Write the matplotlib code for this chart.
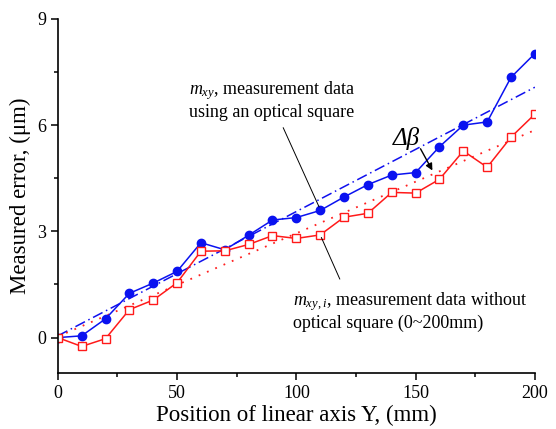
import matplotlib
matplotlib.use("Agg")
import matplotlib.pyplot as plt
from matplotlib.ticker import MultipleLocator

plt.rcParams['font.family'] = ['Liberation Serif', 'DejaVu Serif']
plt.rcParams['mathtext.fontset'] = 'custom'
plt.rcParams['mathtext.it'] = 'Liberation Serif:italic'
plt.rcParams['mathtext.rm'] = 'Liberation Serif'

# position along the Y axis (mm)
position = [0, 10, 20, 30, 40, 50, 60, 70, 80, 90, 100,
            110, 120, 130, 140, 150, 160, 170, 180, 190, 200]

# m_xy: measured with the optical square (um)
with_square = [0.0, 0.05, 0.53, 1.25, 1.54, 1.87, 2.68, 2.48, 2.89, 3.32, 3.39,
               3.59, 3.97, 4.32, 4.59, 4.66, 5.39, 6.00, 6.09, 7.35, 8.02]

# m_xy,i: measured without the optical square (um)
without_square = [0.0, -0.25, -0.03, 0.79, 1.06, 1.55, 2.44, 2.45, 2.63, 2.88, 2.80,
                  2.90, 3.40, 3.51, 4.10, 4.08, 4.47, 5.27, 4.81, 5.66, 6.31]

# straight-line trends, end points
trend_x = [0, 200]
trend_with = [0.05, 7.07]
trend_without = [0.03, 5.86]

fig = plt.figure(figsize=(5.56, 4.29), dpi=100)
ax = fig.add_axes([0.104, 0.1305, 0.858, 0.8255])

ax.plot(trend_x, trend_with, color='#1010ee', lw=1.1, ls=(0, (7, 2.5, 1, 2.5)))
ax.plot(trend_x, trend_without, color='#ff2020', lw=1.3, ls=(0, (1, 4)))

ax.plot(position, with_square, color='#0a12f0', lw=1.1, marker='o',
        markersize=6, markerfacecolor='#0a12f0', markeredgecolor='#0a12f0')
ax.plot(position, without_square, color='#ff1a1a', lw=1.1, marker='s',
        markersize=6, markerfacecolor='white', markeredgecolor='#ff1a1a',
        markeredgewidth=1.0)

ax.set_xlim(0, 200)
ax.set_ylim(-1, 9)
ax.xaxis.set_major_locator(MultipleLocator(50))
ax.xaxis.set_minor_locator(MultipleLocator(25))
ax.yaxis.set_major_locator(MultipleLocator(3))
ax.yaxis.set_minor_locator(MultipleLocator(1.5))
ax.tick_params(which='major', direction='out', length=5, width=1.1, labelsize=13)
ax.tick_params(which='minor', direction='out', length=3, width=1.1)

for side in ('top', 'right'):
    ax.spines[side].set_visible(False)
for side in ('left', 'bottom'):
    ax.spines[side].set_linewidth(1.2)

ax.set_xlabel('Position of linear axis Y, (mm)', fontsize=16.5, labelpad=2)
ax.set_ylabel('Measured error, (\u03bcm)', fontsize=16.5, labelpad=4)

ax.annotate('', xy=(110, 3.62), xytext=(94, 6.0),
            arrowprops=dict(arrowstyle='-', lw=0.7, color='black'))
ax.text(55, 7.3, '$m_{xy}$, measurement data\nusing an optical square',
        fontsize=13, va='top', ha='left', linespacing=1.12)

ax.annotate('', xy=(110, 2.9), xytext=(118.7, 1.58),
            arrowprops=dict(arrowstyle='-', lw=0.7, color='black'))
ax.text(98.5, 1.35, '$m_{xy,i}$, measurement data without\noptical square (0~200mm)',
        fontsize=13, va='top', ha='left', linespacing=1.12)

ax.annotate('', xy=(157.6, 4.65), xytext=(151.5, 5.4),
            arrowprops=dict(arrowstyle='-|>', lw=1.0, color='black',
                            mutation_scale=10))
ax.text(146, 5.62, '\u0394\u03b2', fontsize=18, style='italic',
        ha='center', va='center')

fig.savefig('out.png', dpi=100)
